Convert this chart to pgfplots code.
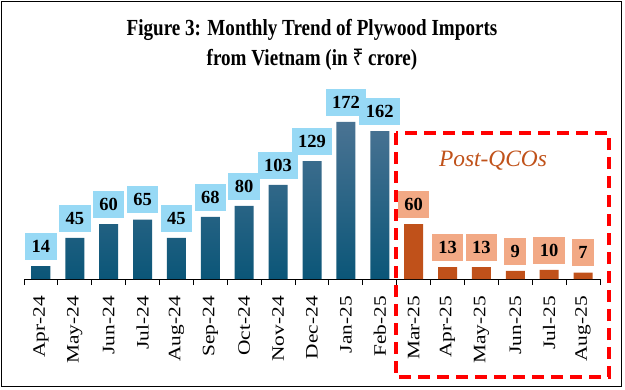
\documentclass[border=0pt]{standalone}
\usepackage{fontspec}
\setmainfont{Liberation Serif}
\newfontfamily\titlefont[FakeStretch=0.83]{Liberation Serif}
\newfontfamily\rupeefont[FakeStretch=0.83]{Noto Sans}
\newfontfamily\tickfont[FakeStretch=1.22]{Liberation Serif}
\usepackage{pgfplots}
\pgfplotsset{compat=1.18}
\definecolor{barblueT}{HTML}{4A7393}
\definecolor{barblueB}{HTML}{0B5678}
\definecolor{barorange}{HTML}{C0511A}
\definecolor{lblblue}{HTML}{97D9F5}
\definecolor{lblorange}{HTML}{F2A985}
\definecolor{postqco}{HTML}{C0521A}
\begin{document}
\begin{tikzpicture}
\useasboundingbox (0pt,0pt) rectangle (625pt,-389pt);
\draw[line width=1.5pt] (1.5pt,-1.5pt) rectangle (621.5pt,-386.5pt);
\node[font=\titlefont\bfseries\fontsize{23}{30}\selectfont, align=center] at (312pt,-45pt) {Figure 3: Monthly Trend of Plywood Imports\\from Vietnam (in {\rupeefont\bfseries ₹} crore)};
\begin{axis}[
  at={(24pt,-279pt)}, anchor=south west,
  scale only axis, width=576pt, height=179pt,
  xmin=-0.5, xmax=16.5, ymin=0, ymax=196,
  axis x line=bottom, axis y line=none,
  x axis line style={-, line width=1pt, black},
  xtick={0,...,16},
  xticklabels={Apr-24,May-24,Jun-24,Jul-24,Aug-24,Sep-24,Oct-24,Nov-24,Dec-24,Jan-25,Feb-25,Mar-25,Apr-25,May-25,Jun-25,Jul-25,Aug-25},
  major tick length=0pt,
  minor xtick={-0.5,0.5,...,16.5},
  minor tick length=6pt,
  tick align=outside,
  tick style={black, line width=1pt},
  xticklabel style={font=\tickfont\fontsize{17.5}{17.5}\selectfont, rotate=90, anchor=east, inner xsep=17pt, inner ysep=0pt},
  /pgf/number format/assume math mode=true,
  clip=false,
]
\addplot[ybar, bar width=19pt, bar shift=0pt, draw=none, top color=barblueT, bottom color=barblueB,
  nodes near coords,
  nodes near coords style={fill=lblblue, text=black, font=\bfseries\fontsize{18.5}{18.5}\selectfont, inner xsep=6.5pt, inner ysep=0pt, minimum height=27pt, yshift=6pt}]
  coordinates {(0,14)(1,45)(2,60)(3,65)(4,45)(5,68)(6,80)(7,103)(8,129)(9,172)(10,162)};
\addplot[ybar, bar width=19pt, bar shift=0pt, draw=none, fill=barorange,
  nodes near coords,
  nodes near coords style={fill=lblorange, text=black, font=\bfseries\fontsize{18.5}{18.5}\selectfont, inner xsep=6.5pt, inner ysep=0pt, minimum height=27pt, yshift=6pt}]
  coordinates {(11,60)(12,13)(13,13)(14,9)(15,10)(16,7)};
\end{axis}
\draw[red, line width=3.5pt, dash pattern=on 12pt off 7pt] (396pt,-133pt) rectangle (609pt,-377pt);
\node[font=\itshape\fontsize{23.4}{24}\selectfont, text=postqco] at (493pt,-161pt) {Post-QCOs};
\end{tikzpicture}
\end{document}
